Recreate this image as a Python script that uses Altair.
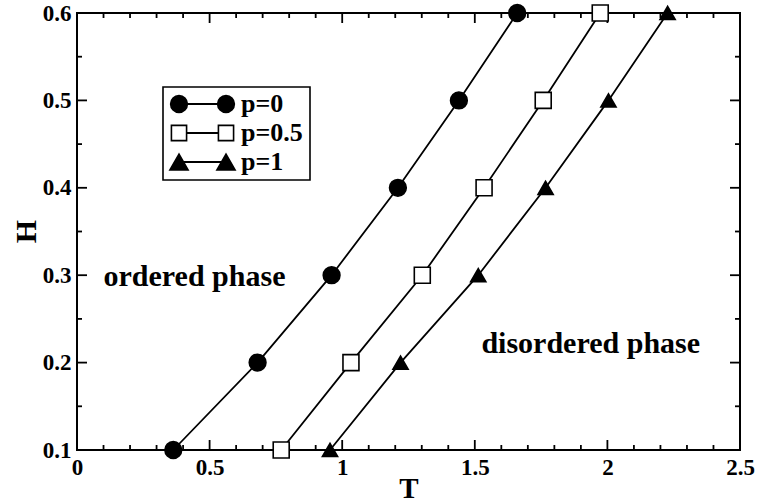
import altair as alt
import pandas as pd

# ---- data ----
series_names = ["p=0", "p=0.5", "p=1"]
H_values = [0.1, 0.2, 0.3, 0.4, 0.5, 0.6]
T_p0 = [0.363, 0.681, 0.960, 1.210, 1.440, 1.660]
T_p05 = [0.770, 1.033, 1.302, 1.535, 1.758, 1.973]
T_p1 = [0.954, 1.220, 1.513, 1.767, 2.004, 2.227]

x_major = [0, 0.5, 1, 1.5, 2, 2.5]
x_minor = [0.1, 0.2, 0.3, 0.4, 0.6, 0.7, 0.8, 0.9, 1.1, 1.2, 1.3, 1.4,
           1.6, 1.7, 1.8, 1.9, 2.1, 2.2, 2.3, 2.4]
y_major = [0.1, 0.2, 0.3, 0.4, 0.5, 0.6]
y_minor = [0.15, 0.25, 0.35, 0.45, 0.55]

annot_text = ["ordered phase", "disordered phase"]
annot_T = [0.1, 1.525]
annot_H = [0.2876, 0.2113]

# ---- styling ----
FONT = "Liberation Serif"
W, HGT = 663, 437
MAJ, MIN = 10, 5

rows = []
for name, ts in zip(series_names, [T_p0, T_p05, T_p1]):
    for t, h in zip(ts, H_values):
        rows.append({"series": name, "T": t, "H": h})
df = pd.DataFrame(rows)

xscale = alt.Scale(domain=[0, 2.5], nice=False, zero=False)
yscale = alt.Scale(domain=[0.1, 0.6], nice=False, zero=False)

xaxis = alt.Axis(values=x_major, format="~g", labelFont=FONT, labelFontSize=23,
                 labelFontWeight="bold", labelColor="black", ticks=False, tickSize=0,
                 domain=False, grid=False, title="T", titleFont=FONT, titleFontSize=29,
                 titleFontWeight="bold", titleColor="black", labelPadding=6,
                 labelFlush=False, labelOverlap=False, titleBaseline="alphabetic",
                 titleY=47)
yaxis = alt.Axis(values=y_major, format=".1f", labelFont=FONT, labelFontSize=23,
                 labelFontWeight="bold", labelColor="black", ticks=False, tickSize=0,
                 domain=False, grid=False, title="H", titleFont=FONT, titleFontSize=30,
                 titleFontWeight="bold", titleColor="black", labelPadding=6,
                 labelFlush=False, labelOverlap=False, titleBaseline="alphabetic",
                 titleX=-42, titleY=218, titleAngle=270, titleAlign="center")

base = alt.Chart(df)
lines = base.mark_line(color="black", strokeWidth=1.8).encode(
    x=alt.X("T:Q", scale=xscale, axis=xaxis),
    y=alt.Y("H:Q", scale=yscale, axis=yaxis),
    detail="series:N",
    order="H:Q",
)

shape_scale = alt.Scale(domain=series_names, range=["circle", "square", "triangle-up"])
fill_scale = alt.Scale(domain=series_names, range=["black", "white", "black"])
size_scale = alt.Scale(domain=series_names, range=[280, 230, 330])

points = base.mark_point(filled=True, stroke="black", strokeWidth=1.6, opacity=1).encode(
    x=alt.X("T:Q", scale=xscale),
    y=alt.Y("H:Q", scale=yscale),
    shape=alt.Shape("series:N", scale=shape_scale, legend=None),
    fill=alt.Fill("series:N", scale=fill_scale, legend=None),
    size=alt.Size("series:N", scale=size_scale, legend=None),
)

# inward ticks on all four sides
def xticks(vals, length):
    d = alt.Chart(pd.DataFrame({"v": vals}))
    bottom = d.mark_rule(color="black", strokeWidth=1.8).encode(
        x=alt.X("v:Q", scale=xscale), y=alt.value(HGT), y2=alt.value(HGT - length))
    top = d.mark_rule(color="black", strokeWidth=1.8).encode(
        x=alt.X("v:Q", scale=xscale), y=alt.value(0), y2=alt.value(length))
    return [bottom, top]

def yticks(vals, length):
    d = alt.Chart(pd.DataFrame({"v": vals}))
    left = d.mark_rule(color="black", strokeWidth=1.8).encode(
        y=alt.Y("v:Q", scale=yscale), x=alt.value(0), x2=alt.value(length))
    right = d.mark_rule(color="black", strokeWidth=1.8).encode(
        y=alt.Y("v:Q", scale=yscale), x=alt.value(W), x2=alt.value(W - length))
    return [left, right]

tick_layers = xticks(x_major, MAJ) + xticks(x_minor, MIN) + yticks(y_major, MAJ) + yticks(y_minor, MIN)

# legend box
legend_layers = []
box = alt.Chart(pd.DataFrame({"a": [0]})).mark_rect(
    fill="white", stroke="black", strokeWidth=1.6).encode(
    x=alt.value(86), x2=alt.value(233), y=alt.value(74), y2=alt.value(167))
legend_layers.append(box)
shapes = ["circle", "square", "triangle-up"]
fills = ["black", "white", "black"]
sizes = [280, 230, 330]
for i, name in enumerate(series_names):
    yy = 91 + 29 * i
    d = alt.Chart(pd.DataFrame({"label": [name]}))
    legend_layers.append(d.mark_rule(color="black", strokeWidth=1.8).encode(
        x=alt.value(102), x2=alt.value(149), y=alt.value(yy)))
    for xx in (102, 149):
        legend_layers.append(d.mark_point(shape=shapes[i], filled=True, fill=fills[i],
                                          stroke="black", strokeWidth=1.6, opacity=1,
                                          size=sizes[i]).encode(
            x=alt.value(xx), y=alt.value(yy)))
    legend_layers.append(d.mark_text(align="left", baseline="middle", font=FONT,
                                     fontSize=26, fontWeight="bold", color="black").encode(
        x=alt.value(164), y=alt.value(yy), text="label:N"))

annots = alt.Chart(pd.DataFrame({"text": annot_text, "T": annot_T, "H": annot_H})).mark_text(
    align="left", baseline="alphabetic", font=FONT, fontSize=30, fontWeight="bold",
    color="black").encode(
    x=alt.X("T:Q", scale=xscale), y=alt.Y("H:Q", scale=yscale), text="text:N")

chart = alt.layer(*tick_layers, lines, points, *legend_layers, annots).properties(
    width=W, height=HGT,
    autosize=alt.AutoSizeParams(type="none"),
    padding={"left": 77, "top": 13, "right": 17, "bottom": 53},
    background="white",
).configure_view(stroke="black", strokeWidth=2)

chart.save("out.html", embed_options={"renderer": "svg", "actions": False})
